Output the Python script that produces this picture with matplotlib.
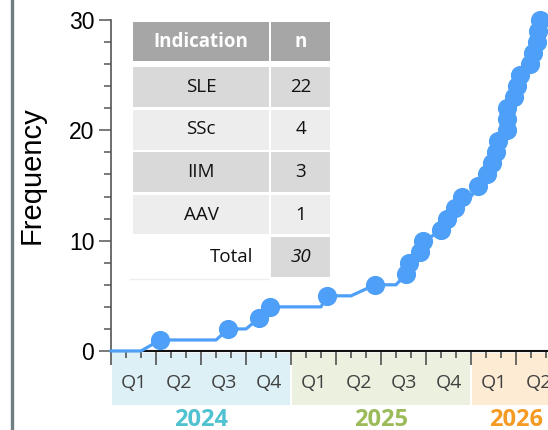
import matplotlib.pyplot as plt
import matplotlib.transforms as mtransforms
from matplotlib.patches import Rectangle
from matplotlib.lines import Line2D
import numpy as np

# months since Jan 2024 of each new case, and the cumulative count
event_month = [3.27, 7.82, 9.89, 10.6, 14.42, 17.6, 19.67, 19.87, 20.6, 20.82,
               21.97, 22.38, 22.9, 23.38, 24.49, 25.05, 25.38, 25.67, 25.83, 26.38,
               26.38, 26.43, 26.87, 27.05, 27.27, 27.93, 28.15, 28.4, 28.47, 28.6]
cumulative = [1, 2, 3, 4, 5, 6, 7, 8, 9, 10, 11, 12, 13, 14, 15,
              16, 17, 18, 19, 20, 21, 22, 23, 24, 25, 26, 27, 28, 29, 30]
# where the line leaves a flat stretch (month, level)
hold_month = [0.0, 2.0, 7.0, 9.0, 14.0, 16.0, 19.0, 21.0, 24.0]
hold_level = [0, 0, 1, 2, 4, 5, 6, 10, 14]

years = ['2024', '2025', '2026']
year_start = [0, 12, 24]
year_months = [12, 12, 6]
year_colors = ['#4fc1d0', '#9bbb59', '#f59a23']
band_colors = ['#ddf0f5', '#ebf1de', '#fdebd4']
quarters = ['Q1', 'Q2', 'Q3', 'Q4']

indications = ['SLE', 'SSc', 'IIM', 'AAV']
n_cases = [22, 4, 3, 1]
total = 30

W, H = 548, 430
fig = plt.figure(figsize=(W / 100, H / 100), dpi=100)
plt.rcParams['font.family'] = ['Liberation Sans', 'DejaVu Sans']
ax = fig.add_axes([111 / W, 1 - 351 / H, 1 - 111 / W, 331 / H])

# line: flat stretches + events, sorted in time
pts = sorted(list(zip(hold_month, hold_level)) + list(zip(event_month, cumulative)))
lx, ly = zip(*pts)
blue = '#4d9ff7'
ax.plot(lx, ly, color=blue, lw=2.3, zorder=3, clip_on=False)
ax.plot(event_month, cumulative, 'o', color=blue, ms=12.8, zorder=4, clip_on=False)

ax.set_xlim(0, 29.13)
ax.set_ylim(0, 30)
for s in ['top', 'right']:
    ax.spines[s].set_visible(False)
ax.spines['left'].set_color('#555555')
ax.spines['left'].set_linewidth(1.2)
ax.spines['bottom'].set_color('#111111')
ax.spines['bottom'].set_linewidth(1.5)

ax.set_yticks([0, 10, 20, 30])
ax.set_yticks(np.arange(0, 31, 2), minor=True)
ax.tick_params(axis='y', which='major', length=9, width=1.1, color='#555555',
               labelsize=16.5, pad=3)
ax.tick_params(axis='y', which='minor', length=5, width=1.1, color='#555555')

ax.set_xticks(np.arange(0, 30, 3))
ax.set_xticks(np.arange(0, 30, 1), minor=True)
ax.tick_params(axis='x', which='major', length=10, width=1.1, color='#444444',
               labelbottom=False)
ax.tick_params(axis='x', which='minor', length=5, width=1.1, color='#444444')

ax.set_ylabel('Frequency', fontsize=21)
ax.yaxis.set_label_coords(-0.15, 0.53)

# year bands with quarter labels
trans = mtransforms.blended_transform_factory(ax.transData, ax.transAxes)
for i, yr in enumerate(years):
    x0, nm = year_start[i], year_months[i]
    ax.add_patch(Rectangle((x0 + 0.05, -0.163), nm - 0.1, 0.157, transform=trans,
                           facecolor=band_colors[i], edgecolor='none',
                           clip_on=False, zorder=0))
    for q in range(nm // 3):
        ax.text(x0 + 3 * q + 1.5, -0.097, quarters[q], transform=trans,
                ha='center', va='center', fontsize=14, color='#404040',
                family='Open Sans', clip_on=False)
    ax.text(x0 + nm / 2, -0.209, yr, transform=trans, ha='center', va='center',
            fontsize=17, fontweight='bold', color=year_colors[i],
            family='Open Sans', clip_on=False)

# summary table drawn in pixel coordinates
def cell(x0, y0, x1, y1, color):
    fig.add_artist(Rectangle((x0 / W, 1 - y1 / H), (x1 - x0) / W, (y1 - y0) / H,
                             transform=fig.transFigure, facecolor=color,
                             edgecolor='none', zorder=5))

def ctext(x, y, s, **kw):
    fig.text(x / W, 1 - y / H, s, ha=kw.pop('ha', 'center'), va='center',
             family='Open Sans', zorder=6, **kw)

c1 = (133, 269)
c2 = (271, 330)
cell(c1[0], 22, c1[1], 61, '#a6a6a6')
cell(c2[0], 22, c2[1], 61, '#a6a6a6')
ctext(201, 42, 'Indication', color='white', fontsize=13.5, fontweight='bold')
ctext(300.5, 42, 'n', color='white', fontsize=13.5, fontweight='bold')
row_colors = ['#d9d9d9', '#ededed']
for i, (ind, n) in enumerate(zip(indications, n_cases)):
    y0 = 67 + 42.5 * i
    col = row_colors[i % 2]
    cell(c1[0], y0, c1[1], y0 + 40, col)
    cell(c2[0], y0, c2[1], y0 + 40, col)
    ctext(201, y0 + 20, ind, fontsize=13.5, color='#111111')
    ctext(300.5, y0 + 20, str(n), fontsize=13.5, color='#111111')
y0 = 67 + 42.5 * 4
cell(c2[0], y0, c2[1], y0 + 40, '#d9d9d9')
ctext(253, y0 + 20, 'Total', fontsize=13.5, color='#111111', ha='right')
ctext(300.5, y0 + 20, str(total), fontsize=13.5, color='#111111', style='italic')
fig.add_artist(Line2D([130 / W, 268 / W], [1 - 279 / H, 1 - 279 / H],
                      transform=fig.transFigure, color='#eeeeee', lw=1))

# grey bar on the left edge
fig.add_artist(Line2D([11.5 / W, 11.5 / W], [0, 1], transform=fig.transFigure,
                      color='#6e7e82', lw=2.4))

fig.savefig('out.png', dpi=100)
